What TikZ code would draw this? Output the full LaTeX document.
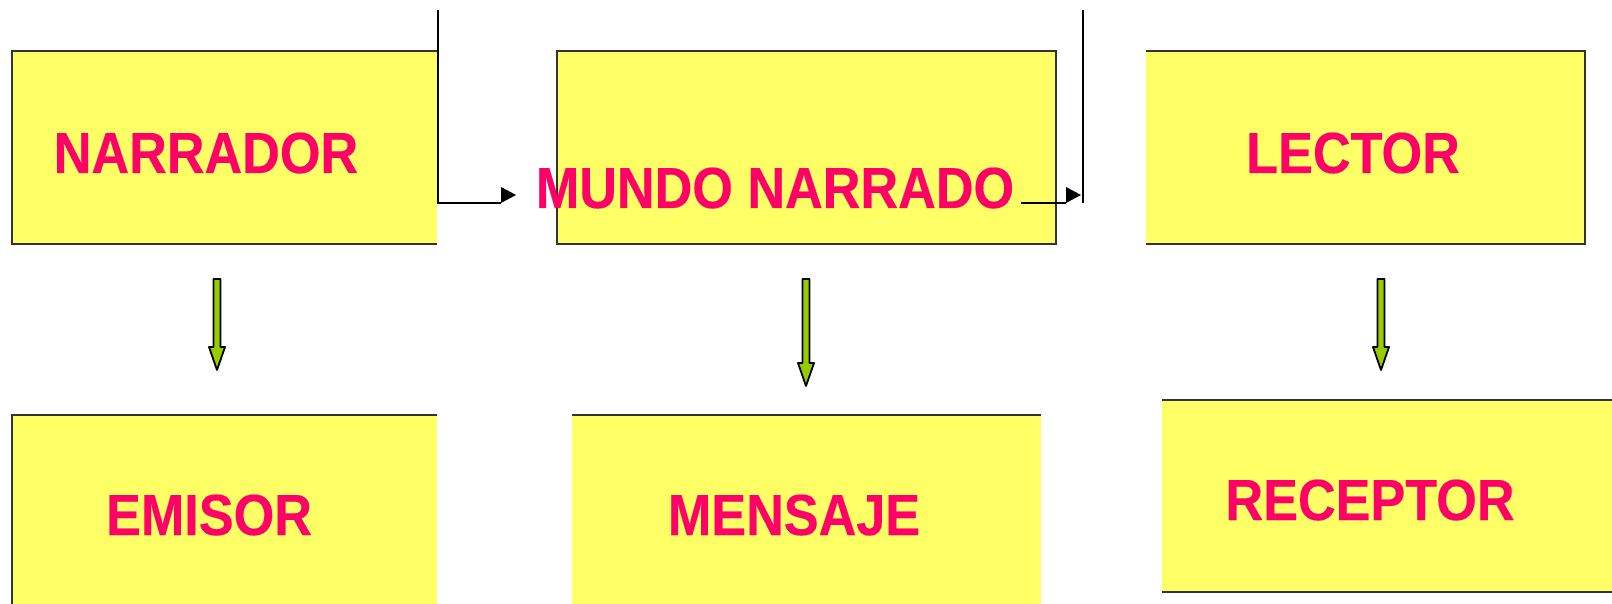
\documentclass[tikz,border=0pt]{standalone}
\usepackage{fontspec}
\setmainfont{Liberation Sans}
\newfontfamily\lblfont{Liberation Sans Bold}[FakeStretch=0.9, FakeBold=0.3]
\usetikzlibrary{calc}
\definecolor{boxyellow}{HTML}{FFFF66}
\definecolor{txtpink}{HTML}{FF0066}
\definecolor{arrgreen}{HTML}{99CC00}
\definecolor{edgegray}{HTML}{333333}
\tikzset{
  boxfill/.style={fill=boxyellow, draw=none, inner sep=0pt, outer sep=0pt, rectangle},
  lbl/.style={text=txtpink, font=\lblfont\fontsize{29}{32}\selectfont, inner sep=0pt, anchor=base},
  edgeline/.style={draw=edgegray, line width=1.2pt},
  conn/.style={draw=black, line width=0.8pt},
  conntip/.style={fill=black},
  greenarrow/.style={fill=arrgreen, draw=black, line width=0.9pt, line join=round}
}
\newcommand\grarrow[2]{%
  \draw[greenarrow] ($(#1)+(-3.5,0)$) -- ($(#2)+(-3.5,-23)$) -- ($(#2)+(-8,-23)$) -- (#2)
    -- ($(#2)+(8,-23)$) -- ($(#2)+(3.5,-23)$) -- ($(#1)+(3.5,0)$) -- cycle;}
\begin{document}
\begin{tikzpicture}[x=0.5pt,y=-0.5pt]
\useasboundingbox (0,0) rectangle (1612,604);
% boxes
\node[boxfill, minimum width=212.5pt, minimum height=96.5pt] (narr) at (224.5,147.5) {};
\node[boxfill, minimum width=249.5pt, minimum height=96.5pt] (mundo) at (806.5,147.5) {};
\node[boxfill, minimum width=219.5pt, minimum height=96.5pt] (lect) at (1365.5,147.5) {};
\node[boxfill, minimum width=212.5pt, minimum height=94.5pt] (emis) at (224.5,509.5) {};
\node[boxfill, minimum width=234.5pt, minimum height=94.5pt] (mens) at (806.5,509.5) {};
\node[boxfill, minimum width=225pt, minimum height=96pt] (rece) at (1387,496) {};
% borders
\draw[edgeline] (narr.north east) -- (narr.north west) -- (narr.south west) -- (narr.south east);
\draw[edgeline] (mundo.north west) rectangle (mundo.south east);
\draw[edgeline] (lect.north west) -- (lect.north east) -- (lect.south east) -- (lect.south west);
\draw[edgeline] (emis.south west) -- (emis.north west) -- (emis.north east);
\draw[edgeline] (mens.north west) -- (mens.north east);
\draw[edgeline] (rece.north west) -- (rece.north east);
\draw[edgeline] (rece.south west) -- (rece.south east);
% connectors
\coordinate (c1top) at (438,10);
\coordinate (c1end) at (501,203);
\draw[conn] (c1top) |- (c1end);
\fill[conntip] (c1end) -- ++(0,-16) -- ++(15,8) -- cycle;
\coordinate (c2start) at (1021,203);
\coordinate (c2end) at (1066,203);
\coordinate (c2top) at (1083,10);
\draw[conn] (c2start) -- (c2end);
\fill[conntip] (c2end) -- ++(0,-16) -- ++(15,8) -- cycle;
\draw[conn] (c2top) -- (c2top |- c2end);
% green arrows
\coordinate (g1s) at (217,279); \coordinate (g1e) at (217,370);
\coordinate (g2s) at (806,279); \coordinate (g2e) at (806,386);
\coordinate (g3s) at (1381,279); \coordinate (g3e) at (1381,370);
\grarrow{g1s}{g1e}
\grarrow{g2s}{g2e}
\grarrow{g3s}{g3e}
% labels
\node[lbl] (narrtxt) at (206,173) {NARRADOR};
\node[lbl] (mundotxt) at (775,208) {MUNDO NARRADO};
\node[lbl] (lecttxt) at (1353,173) {LECTOR};
\node[lbl] (emistxt) at (209,535) {EMISOR};
\node[lbl] (menstxt) at (794,535) {MENSAJE};
\node[lbl] (recetxt) at (1370,520) {RECEPTOR};
\end{tikzpicture}
\end{document}
